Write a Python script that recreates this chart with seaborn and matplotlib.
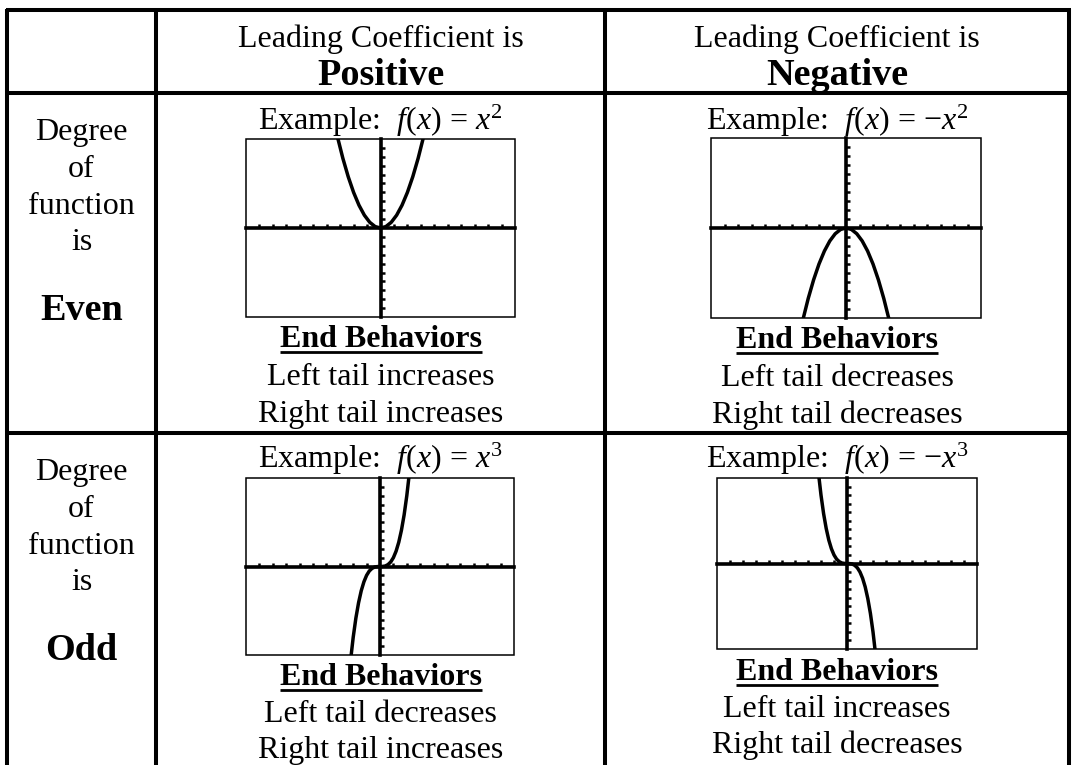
import matplotlib
matplotlib.use("Agg")
import matplotlib.pyplot as plt
from matplotlib.patches import Rectangle
import seaborn as sns

# -------------------------
# 1. Data
# -------------------------
col_heads = ['Positive', 'Negative']
row_heads = ['Even', 'Odd']
examples = [['$f(x)$ = $x^2$', '$f(x)$ = $-x^2$'],
            ['$f(x)$ = $x^3$', '$f(x)$ = $-x^3$']]
left_tail = [['increases', 'decreases'], ['decreases', 'increases']]
right_tail = [['increases', 'decreases'], ['increases', 'decreases']]

# points (window -10..10 on both axes)
sq_x = [-3.2, -2.8, -2.4, -2.0, -1.6, -1.2, -0.8, -0.4, 0.0,
        0.4, 0.8, 1.2, 1.6, 2.0, 2.4, 2.8, 3.2]
sq_y = [10.24, 7.84, 5.76, 4.0, 2.56, 1.44, 0.64, 0.16, 0.0,
        0.16, 0.64, 1.44, 2.56, 4.0, 5.76, 7.84, 10.24]
neg_sq_y = [-10.24, -7.84, -5.76, -4.0, -2.56, -1.44, -0.64, -0.16, 0.0,
            -0.16, -0.64, -1.44, -2.56, -4.0, -5.76, -7.84, -10.24]
cu_x = [-2.2, -2.0, -1.8, -1.6, -1.4, -1.2, -1.0, -0.8, -0.6, -0.4, -0.2, 0.0,
        0.2, 0.4, 0.6, 0.8, 1.0, 1.2, 1.4, 1.6, 1.8, 2.0, 2.2]
cu_y = [-10.65, -8.0, -5.83, -4.1, -2.74, -1.73, -1.0, -0.51, -0.22, -0.06, -0.01, 0.0,
        0.01, 0.06, 0.22, 0.51, 1.0, 1.73, 2.74, 4.1, 5.83, 8.0, 10.65]
neg_cu_y = [10.65, 8.0, 5.83, 4.1, 2.74, 1.73, 1.0, 0.51, 0.22, 0.06, 0.01, 0.0,
            -0.01, -0.06, -0.22, -0.51, -1.0, -1.73, -2.74, -4.1, -5.83, -8.0, -10.65]
curves = [[(sq_x, sq_y), (sq_x, neg_sq_y)],
          [(cu_x, cu_y), (cu_x, neg_cu_y)]]
ticks = [-9, -8, -7, -6, -5, -4, -3, -2, -1, 1, 2, 3, 4, 5, 6, 7, 8, 9]

# -------------------------
# 2. Style
# -------------------------
sns.set_theme(style="white")
plt.rcParams['font.family'] = ['Liberation Serif', 'DejaVu Serif']
plt.rcParams['text.color'] = 'black'
plt.rcParams['mathtext.fontset'] = 'custom'
plt.rcParams['mathtext.rm'] = 'Liberation Serif'
plt.rcParams['mathtext.it'] = 'Liberation Serif:italic'
plt.rcParams['mathtext.bf'] = 'Liberation Serif:bold'

W, H = 1077, 765
fig = plt.figure(figsize=(W / 100, H / 100), dpi=100)
bg = fig.add_axes([0, 0, 1, 1])
bg.set_xlim(0, W)
bg.set_ylim(H, 0)
bg.axis('off')

# -------------------------
# 3. Table grid
# -------------------------
lw_grid = 2.9
x_left, x_c1, x_c2, x_right = 7, 156, 605, 1069
y_top, y_head, y_row = 10, 93, 433
for x in [x_left, x_c1, x_c2, x_right]:
    bg.plot([x, x], [y_top - 1.5, H + 5], color='black', lw=lw_grid, solid_capstyle='butt')
for y in [y_top, y_head, y_row]:
    bg.plot([x_left - 1.5, x_right + 1.5], [y, y], color='black', lw=lw_grid, solid_capstyle='butt')

col_cx = [380.5, 837]
reg = 23
big = 27.5

# header
for j, name in enumerate(col_heads):
    bg.text(col_cx[j], 47, 'Leading Coefficient is', ha='center', va='baseline', fontsize=reg)
    bg.text(col_cx[j], 85, name, ha='center', va='baseline', fontsize=big, fontweight='bold')

# row labels
row_off = [0, 340]
for i, name in enumerate(row_heads):
    o = row_off[i]
    for k, word in enumerate(['Degree', 'of', 'function', 'is']):
        bg.text(81.5, 140 + o + 36.8 * k, word, ha='center', va='baseline', fontsize=reg)
    bg.text(81.5, 320 + o, name, ha='center', va='baseline', fontsize=big, fontweight='bold')

# -------------------------
# 4. Calculator screens
# -------------------------
boxes = [[(246, 139, 515, 317), (711, 138, 981, 318)],
         [(246, 478, 514, 655), (717, 478, 977, 649)]]
ex_base = [[130, 130], [468, 468]]
end_base = [[347, 348], [685, 680]]
left_base = [[385, 386], [722, 717]]
right_base = [[422, 423], [758, 753]]

end_texts = []
for i in range(2):
    for j in range(2):
        x0, y0, x1, y1 = boxes[i][j]
        ax = fig.add_axes([x0 / W, 1 - y1 / H, (x1 - x0) / W, (y1 - y0) / H])
        cx, cy = curves[i][j]
        sns.lineplot(x=cx, y=cy, ax=ax, color='black', linewidth=2.5,
                     estimator=None, sort=False)
        ax.set_xlim(-10, 10)
        ax.set_ylim(-10, 10)
        ax.set_facecolor('white')
        for s in ['top', 'right']:
            ax.spines[s].set_visible(False)
        for s in ['left', 'bottom']:
            ax.spines[s].set_position('zero')
            ax.spines[s].set_linewidth(2.6)
            ax.spines[s].set_color('black')
        ax.add_patch(Rectangle((0, 0), 1, 1, transform=ax.transAxes, fill=False,
                               edgecolor='black', lw=1.1, clip_on=False))
        ax.set_xticks(ticks)
        ax.set_yticks(ticks)
        ax.tick_params(direction='in', length=3.0, width=1.8, color='black',
                       bottom=True, left=True, labelbottom=False, labelleft=False)
        ax.set_xlabel('')
        ax.set_ylabel('')

        cxp = col_cx[j]
        bg.text(cxp, ex_base[i][j], 'Example:  ' + examples[i][j], ha='center',
                va='baseline', fontsize=reg)
        t = bg.text(cxp, end_base[i][j], 'End Behaviors', ha='center', va='baseline',
                    fontsize=reg, fontweight='bold')
        end_texts.append(t)
        bg.text(cxp, left_base[i][j], 'Left tail ' + left_tail[i][j], ha='center',
                va='baseline', fontsize=reg)
        bg.text(cxp, right_base[i][j], 'Right tail ' + right_tail[i][j], ha='center',
                va='baseline', fontsize=reg)

# underline "End Behaviors"
fig.canvas.draw()
inv = bg.transData.inverted()
for t in end_texts:
    bb = t.get_window_extent()
    (ax0, _), (ax1, _) = inv.transform([[bb.x0, bb.y0], [bb.x1, bb.y1]])
    _, yb = t.get_position()
    bg.plot([ax0, ax1], [yb + 5, yb + 5], color='black', lw=2.0, solid_capstyle='butt')

fig.savefig('out.png', dpi=100, facecolor='white')
